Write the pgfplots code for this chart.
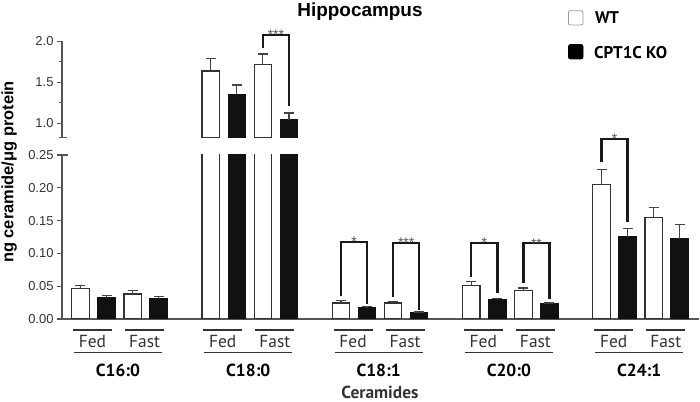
\documentclass[border=0pt]{standalone}
\usepackage{fontspec}
\setmainfont{Liberation Sans}
\newfontfamily\myr{PT Sans}
\usepackage{pgfplots}
\pgfplotsset{compat=1.18}
\definecolor{axgray}{HTML}{555555}
\definecolor{txtgray}{HTML}{333333}
\definecolor{bardark}{HTML}{333333}
\definecolor{errgray}{HTML}{444444}
\definecolor{kofill}{HTML}{111111}
\definecolor{brk}{HTML}{1A1A1A}
\definecolor{stargray}{HTML}{555555}
\definecolor{leggray}{HTML}{999999}
\pgfplotsset{
  wtbar/.style={fill=white, draw=bardark, line width=1.2bp, bar shift=0pt,
    error bars/.cd, y dir=plus, y explicit,
    error bar style={draw=errgray, line width=1.2bp},
    error mark options={rotate=90, mark size=5bp, draw=errgray, line width=1.2bp}},
  kobar/.style={fill=kofill, draw=kofill, line width=1.2bp, bar shift=0pt,
    error bars/.cd, y dir=plus, y explicit,
    error bar style={draw=errgray, line width=1.2bp},
    error mark options={rotate=90, mark size=5bp, draw=errgray, line width=1.2bp}},
  common/.style={
    scale only axis, width=637bp, xmin=-0.71, xmax=23.74,
    ybar, bar width=17.4bp, clip mode=individual,
    axis line style={-, draw=axgray, line width=1.3bp},
    tick align=outside, major tick length=5bp, minor tick length=3bp,
    tick style={draw=axgray, line width=1.1bp},
    tick label style={font=\fontsize{13}{13}\selectfont, text=txtgray},
    xtick=\empty,
  },
}
\tikzset{
  bracket/.style={draw=brk, line width=2.3bp, line join=miter},
  star/.style={text=stargray, font=\fontsize{14}{14}\selectfont, anchor=base, yshift=-5bp, inner sep=0pt},
}
\begin{document}
\begin{tikzpicture}
\path[use as bounding box] (0bp,0bp) rectangle (700bp,402bp);
% lower axis
\begin{axis}[common,
  at={(62bp,83bp)}, anchor=south west, height=164bp,
  ymin=0, ymax=0.25,
  axis x line=bottom, axis y line=left,
  axis line style={-, draw=axgray, line width=1.3bp},
  tick align=outside,
  ytick={0,0.05,0.10,0.15,0.20,0.25},
  yticklabel style={/pgf/number format/.cd, fixed, fixed zerofill, precision=2, assume math mode=true},
]
\addplot[wtbar] coordinates {
  (0,0.047) +- (0,0.0045)
  (2,0.038) +- (0,0.005)
  (5,1.638) +- (0,0.152)
  (7,1.720) +- (0,0.125)
  (10,0.0244) +- (0,0.0036)
  (12,0.0244) +- (0,0.002)
  (15,0.0508) +- (0,0.0067)
  (17,0.0432) +- (0,0.0041)
  (20,0.2056) +- (0,0.022)
  (22,0.1547) +- (0,0.0148)
};
\addplot[kobar] coordinates {
  (1,0.033) +- (0,0.0026)
  (3,0.0305) +- (0,0.0042)
  (6,1.354) +- (0,0.113)
  (8,1.045) +- (0,0.081)
  (11,0.0168) +- (0,0.002)
  (13,0.0096) +- (0,0.0011)
  (16,0.029) +- (0,0.002)
  (18,0.0234) +- (0,0.001)
  (21,0.125) +- (0,0.0135)
  (23,0.122) +- (0,0.022)
};
\draw[bracket] (axis cs:10,0.035) -- (axis cs:10,0.1178) -- (axis cs:11,0.1178) -- (axis cs:11,0.0229);
\node[star] at (axis cs:10.5,0.1178) {*};
\draw[bracket] (axis cs:12,0.034) -- (axis cs:12,0.1159) -- (axis cs:13,0.1159) -- (axis cs:13,0.0137);
\node[star] at (axis cs:12.5,0.1159) {***};
\draw[bracket] (axis cs:15,0.0645) -- (axis cs:15,0.1163) -- (axis cs:16,0.1163) -- (axis cs:16,0.039);
\node[star] at (axis cs:15.5,0.1163) {*};
\draw[bracket] (axis cs:17,0.0553) -- (axis cs:17,0.1154) -- (axis cs:18,0.1154) -- (axis cs:18,0.030);
\node[star] at (axis cs:17.5,0.1154) {**};
\draw[bracket] (axis cs:20,0.2389) -- (axis cs:20,0.2744) -- (axis cs:21,0.2744) -- (axis cs:21,0.1483);
\node[star] at (axis cs:20.5,0.2744) {*};
\end{axis}
% upper axis
\begin{axis}[common,
  at={(62bp,264.3bp)}, anchor=south west, height=96.4bp,
  ymin=0.824, ymax=2.0,
  hide x axis, axis y line=left,
  axis line style={-, draw=axgray, line width=1.3bp},
  tick align=outside,
  ytick={1,1.5,2}, minor ytick={1.25,1.75},
  yticklabel style={/pgf/number format/.cd, fixed, fixed zerofill, precision=1, assume math mode=true},
]
\addplot[wtbar] coordinates {
  (5,1.638) +- (0,0.152)
  (7,1.720) +- (0,0.125)
};
\addplot[kobar] coordinates {
  (6,1.354) +- (0,0.113)
  (8,1.045) +- (0,0.081)
};
\draw[bracket] (axis cs:7,1.918) -- (axis cs:7,2.077) -- (axis cs:8,2.077) -- (axis cs:8,1.216);
\node[star] at (axis cs:7.5,2.077) {***};
\end{axis}
\begin{scope}[x=1bp,y=1bp]
% break caps
\draw[axgray, line width=1.3bp] (59,264.3) -- (67,264.3);
\draw[axgray, line width=1.3bp] (57.5,247) -- (67.5,247);
% legend
\draw[fill=white, draw=leggray, line width=0.8bp, rounded corners=2bp] (568.5,377) rectangle (583,391.3);
\draw[fill=black, draw=black, line width=0.8bp, rounded corners=2bp] (568.5,343) rectangle (583,357.5);
\node[anchor=west, inner sep=0pt, font=\myr\bfseries\fontsize{17}{17}\selectfont] at (595,384.5) {WT};
\node[anchor=west, inner sep=0pt, font=\myr\bfseries\fontsize{17}{17}\selectfont] at (594,349.5) {CPT1C KO};
% title and y label
\node[font=\bfseries\fontsize{19}{19}\selectfont] at (360,390.5) {Hippocampus};
\node[font=\bfseries\fontsize{16.5}{16.5}\selectfont, rotate=90] at (9.2,230) {ng ceramide/μg protein};
% category labels
\foreach \g/\name in {0/C16:0,1/C18:0,2/C18:1,3/C20:0,4/C24:1}{
  \pgfmathsetmacro\xa{80.4+26.06*(5*\g+0.5)-1}
  \pgfmathsetmacro\xb{80.4+26.06*(5*\g+2.5)-1}
  \pgfmathsetmacro\xc{80.4+26.06*(5*\g+1.5)-1.5}
  \draw[txtgray, line width=1.4bp] (\xa-19.5,72) -- (\xa+19.5,72);
  \draw[txtgray, line width=1.4bp] (\xb-19.5,72) -- (\xb+19.5,72);
  \node[font=\myr\fontsize{17.5}{17.5}\selectfont, text=txtgray] at (\xa,60.8) {Fed};
  \node[font=\myr\fontsize{17.5}{17.5}\selectfont, text=txtgray] at (\xb,60.8) {Fast};
  \draw[txtgray, line width=1.4bp] (\xc-44,49.3) -- (\xc+44,49.3);
  \node[font=\myr\bfseries\fontsize{17.5}{17.5}\selectfont] at (\xc,31.3) {\name};
}
\node[inner sep=0pt, font=\myr\bfseries\fontsize{17.5}{17.5}\selectfont, text=txtgray] at (380,9.8) {Ceramides};
\end{scope}
\end{tikzpicture}
\end{document}
